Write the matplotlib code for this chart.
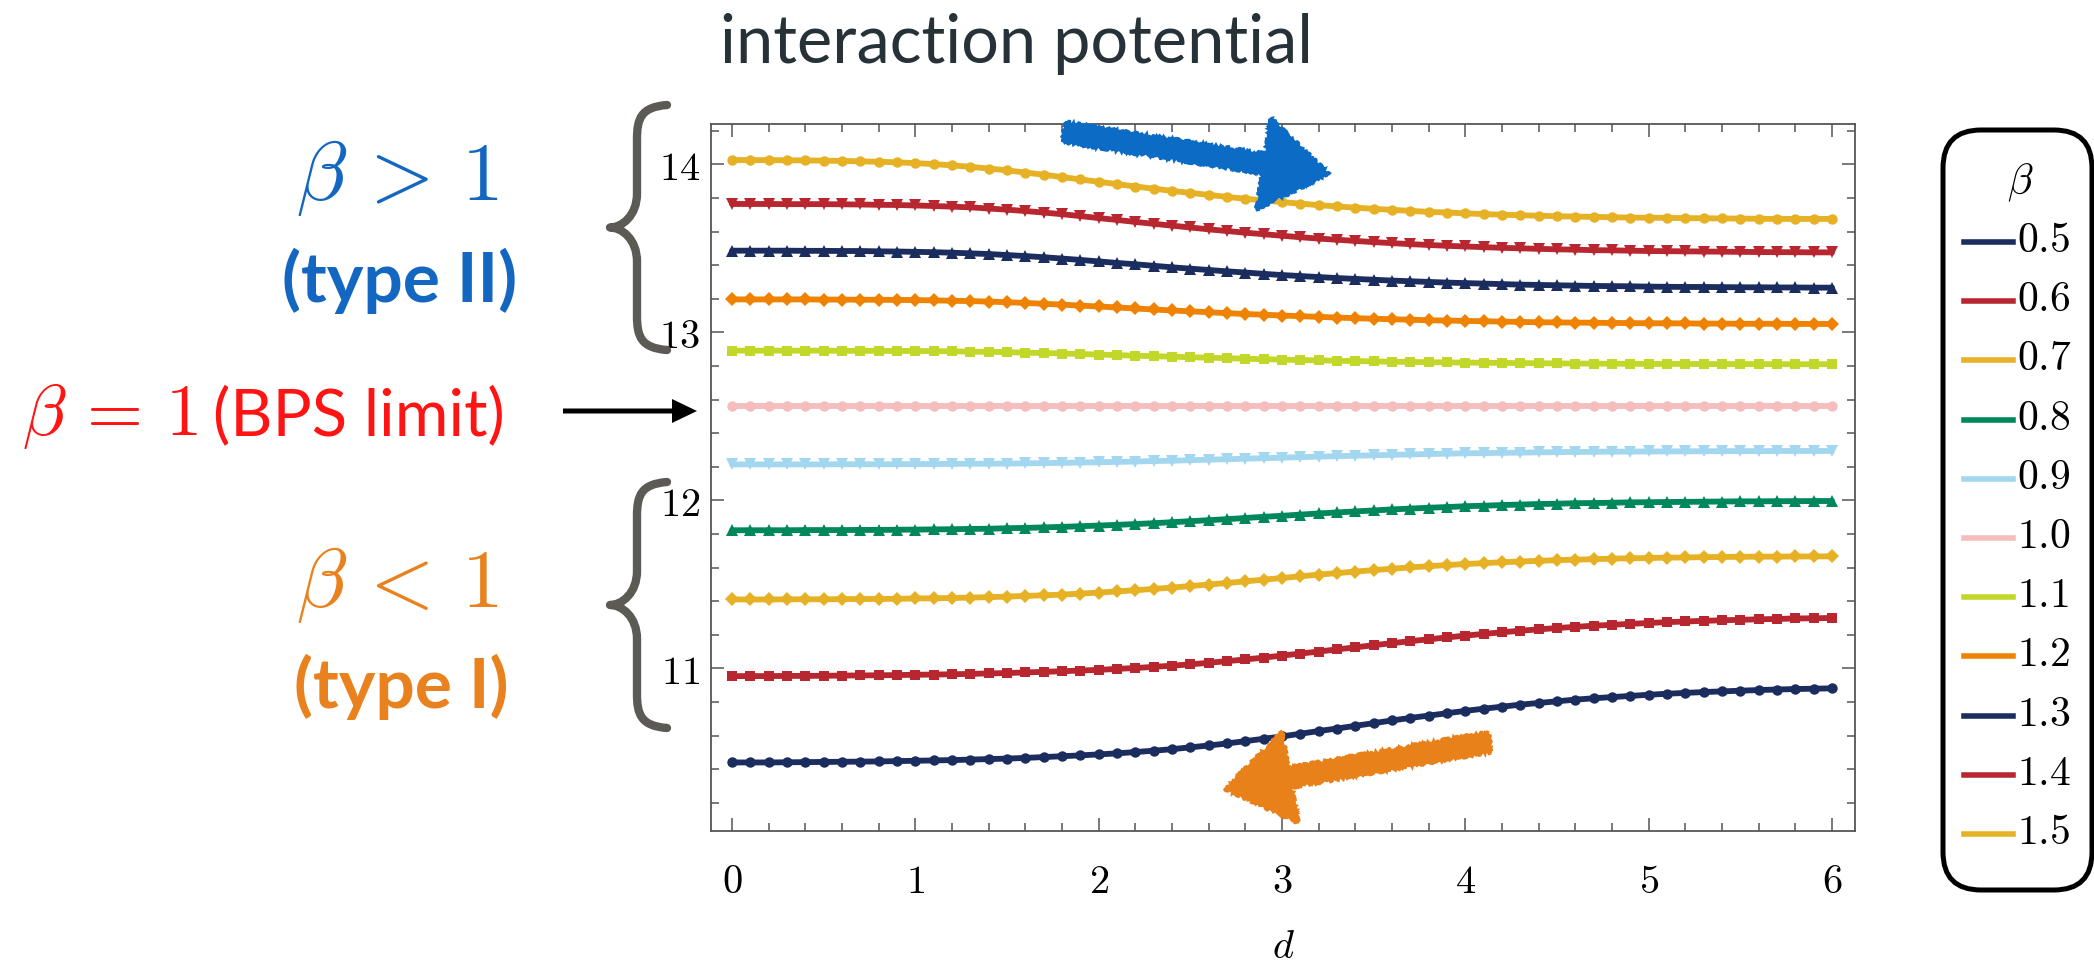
import matplotlib
matplotlib.use('Agg')
import matplotlib.pyplot as plt
from matplotlib.patches import FancyArrow, FancyBboxPatch, PathPatch
from matplotlib.path import Path
from matplotlib.lines import Line2D
from matplotlib.ticker import MultipleLocator, FuncFormatter

plt.rcParams['mathtext.fontset'] = 'cm'

# separation d (one point every 0.1)
d = [0.0, 0.1, 0.2, 0.3, 0.4, 0.5, 0.6, 0.7, 0.8, 0.9,
     1.0, 1.1, 1.2, 1.3, 1.4, 1.5, 1.6, 1.7, 1.8, 1.9,
     2.0, 2.1, 2.2, 2.3, 2.4, 2.5, 2.6, 2.7, 2.8, 2.9,
     3.0, 3.1, 3.2, 3.3, 3.4, 3.5, 3.6, 3.7, 3.8, 3.9,
     4.0, 4.1, 4.2, 4.3, 4.4, 4.5, 4.6, 4.7, 4.8, 4.9,
     5.0, 5.1, 5.2, 5.3, 5.4, 5.5, 5.6, 5.7, 5.8, 5.9,
     6.0]

# interaction potential for each beta
v05 = [10.440, 10.440, 10.440, 10.441, 10.442, 10.443, 10.444, 10.445, 10.446, 10.448,
       10.450, 10.452, 10.454, 10.457, 10.460, 10.463, 10.467, 10.472, 10.477, 10.482,
       10.488, 10.494, 10.502, 10.510, 10.519, 10.530, 10.541, 10.553, 10.567, 10.581,
       10.595, 10.611, 10.627, 10.642, 10.658, 10.674, 10.690, 10.705, 10.719, 10.733,
       10.747, 10.760, 10.772, 10.784, 10.794, 10.804, 10.814, 10.822, 10.829, 10.836,
       10.843, 10.849, 10.854, 10.859, 10.863, 10.867, 10.871, 10.874, 10.877, 10.879,
       10.881]
v06 = [10.954, 10.954, 10.954, 10.955, 10.955, 10.956, 10.957, 10.958, 10.959, 10.960,
       10.962, 10.963, 10.965, 10.967, 10.970, 10.972, 10.976, 10.979, 10.983, 10.987,
       10.991, 10.997, 11.002, 11.009, 11.016, 11.024, 11.033, 11.043, 11.053, 11.064,
       11.076, 11.088, 11.100, 11.113, 11.125, 11.138, 11.150, 11.162, 11.173, 11.184,
       11.195, 11.205, 11.215, 11.224, 11.232, 11.240, 11.247, 11.254, 11.259, 11.265,
       11.270, 11.275, 11.279, 11.283, 11.286, 11.289, 11.292, 11.294, 11.297, 11.298,
       11.300]
v07 = [11.410, 11.410, 11.410, 11.411, 11.411, 11.411, 11.412, 11.413, 11.413, 11.414,
       11.416, 11.417, 11.419, 11.421, 11.424, 11.427, 11.431, 11.435, 11.439, 11.445,
       11.451, 11.458, 11.465, 11.473, 11.481, 11.490, 11.499, 11.508, 11.518, 11.528,
       11.538, 11.548, 11.558, 11.567, 11.576, 11.585, 11.593, 11.601, 11.608, 11.615,
       11.621, 11.626, 11.632, 11.636, 11.640, 11.644, 11.647, 11.650, 11.653, 11.655,
       11.657, 11.659, 11.660, 11.662, 11.663, 11.664, 11.665, 11.665, 11.666, 11.666,
       11.667]
v08 = [11.822, 11.822, 11.822, 11.822, 11.823, 11.823, 11.823, 11.824, 11.824, 11.825,
       11.826, 11.827, 11.828, 11.830, 11.831, 11.834, 11.836, 11.839, 11.842, 11.846,
       11.850, 11.854, 11.859, 11.864, 11.870, 11.876, 11.882, 11.888, 11.895, 11.902,
       11.908, 11.915, 11.922, 11.928, 11.934, 11.940, 11.946, 11.951, 11.956, 11.960,
       11.965, 11.968, 11.972, 11.975, 11.978, 11.980, 11.983, 11.984, 11.986, 11.988,
       11.989, 11.990, 11.991, 11.992, 11.993, 11.994, 11.994, 11.995, 11.995, 11.996,
       11.996]
v09 = [12.214, 12.214, 12.214, 12.214, 12.214, 12.214, 12.215, 12.215, 12.215, 12.215,
       12.216, 12.216, 12.217, 12.218, 12.218, 12.219, 12.220, 12.222, 12.223, 12.225,
       12.227, 12.229, 12.231, 12.234, 12.236, 12.239, 12.242, 12.245, 12.248, 12.251,
       12.254, 12.257, 12.260, 12.263, 12.266, 12.268, 12.271, 12.273, 12.276, 12.278,
       12.280, 12.281, 12.283, 12.284, 12.286, 12.287, 12.288, 12.289, 12.290, 12.290,
       12.291, 12.291, 12.292, 12.292, 12.293, 12.293, 12.293, 12.294, 12.294, 12.294,
       12.294]
v10 = [12.560, 12.560, 12.560, 12.560, 12.560, 12.560, 12.560, 12.560, 12.560, 12.560,
       12.560, 12.560, 12.560, 12.560, 12.560, 12.560, 12.560, 12.560, 12.560, 12.560,
       12.560, 12.560, 12.560, 12.560, 12.560, 12.560, 12.560, 12.560, 12.560, 12.560,
       12.560, 12.560, 12.560, 12.560, 12.560, 12.560, 12.560, 12.560, 12.560, 12.560,
       12.560, 12.560, 12.560, 12.560, 12.560, 12.560, 12.560, 12.560, 12.560, 12.560,
       12.560, 12.560, 12.560, 12.560, 12.560, 12.560, 12.560, 12.560, 12.560, 12.560,
       12.560]
v11 = [12.891, 12.891, 12.891, 12.891, 12.891, 12.891, 12.890, 12.890, 12.890, 12.889,
       12.889, 12.888, 12.887, 12.885, 12.884, 12.882, 12.879, 12.877, 12.874, 12.871,
       12.868, 12.864, 12.861, 12.858, 12.855, 12.852, 12.849, 12.846, 12.843, 12.840,
       12.838, 12.835, 12.833, 12.831, 12.829, 12.827, 12.825, 12.824, 12.822, 12.821,
       12.820, 12.819, 12.818, 12.817, 12.816, 12.815, 12.814, 12.814, 12.813, 12.813,
       12.812, 12.812, 12.812, 12.811, 12.811, 12.811, 12.811, 12.810, 12.810, 12.810,
       12.810]
v12 = [13.196, 13.196, 13.196, 13.196, 13.196, 13.195, 13.195, 13.194, 13.194, 13.193,
       13.192, 13.190, 13.188, 13.186, 13.183, 13.179, 13.175, 13.170, 13.165, 13.159,
       13.154, 13.148, 13.142, 13.136, 13.130, 13.125, 13.120, 13.114, 13.109, 13.105,
       13.100, 13.096, 13.092, 13.088, 13.084, 13.081, 13.078, 13.075, 13.072, 13.070,
       13.068, 13.066, 13.064, 13.062, 13.060, 13.059, 13.058, 13.057, 13.056, 13.055,
       13.054, 13.054, 13.053, 13.052, 13.052, 13.051, 13.051, 13.051, 13.050, 13.050,
       13.050]
v13 = [13.486, 13.486, 13.486, 13.486, 13.485, 13.485, 13.484, 13.484, 13.482, 13.481,
       13.479, 13.477, 13.474, 13.470, 13.466, 13.460, 13.454, 13.447, 13.439, 13.431,
       13.422, 13.413, 13.405, 13.396, 13.387, 13.379, 13.371, 13.363, 13.356, 13.348,
       13.341, 13.335, 13.329, 13.323, 13.318, 13.313, 13.308, 13.304, 13.300, 13.296,
       13.293, 13.290, 13.287, 13.284, 13.282, 13.280, 13.278, 13.276, 13.275, 13.274,
       13.272, 13.271, 13.270, 13.270, 13.269, 13.268, 13.268, 13.267, 13.267, 13.266,
       13.266]
v14 = [13.764, 13.764, 13.764, 13.763, 13.763, 13.763, 13.762, 13.761, 13.759, 13.758,
       13.755, 13.752, 13.748, 13.744, 13.737, 13.730, 13.722, 13.713, 13.703, 13.692,
       13.680, 13.669, 13.657, 13.646, 13.635, 13.624, 13.613, 13.603, 13.593, 13.584,
       13.575, 13.566, 13.558, 13.551, 13.544, 13.537, 13.531, 13.525, 13.520, 13.515,
       13.511, 13.507, 13.503, 13.500, 13.497, 13.494, 13.492, 13.489, 13.488, 13.486,
       13.484, 13.483, 13.482, 13.481, 13.480, 13.479, 13.478, 13.477, 13.477, 13.476,
       13.476]
v15 = [14.026, 14.025, 14.025, 14.024, 14.023, 14.022, 14.020, 14.018, 14.015, 14.012,
       14.007, 14.001, 13.994, 13.985, 13.975, 13.964, 13.951, 13.938, 13.924, 13.910,
       13.896, 13.882, 13.868, 13.855, 13.842, 13.830, 13.818, 13.806, 13.795, 13.785,
       13.775, 13.766, 13.757, 13.749, 13.742, 13.735, 13.729, 13.723, 13.717, 13.713,
       13.708, 13.704, 13.700, 13.697, 13.694, 13.691, 13.689, 13.687, 13.685, 13.683,
       13.682, 13.681, 13.680, 13.679, 13.678, 13.677, 13.676, 13.675, 13.675, 13.675,
       13.675]

beta_labels = ['0.5', '0.6', '0.7', '0.8', '0.9', '1.0', '1.1', '1.2', '1.3', '1.4', '1.5']
series = [v05, v06, v07, v08, v09, v10, v11, v12, v13, v14, v15]

colors = ['#1b2d5e', '#b8272f', '#e6b124', '#00875b', '#a3d7ef', '#f5bdbd',
          '#c3d72b', '#ef8200', '#1b2d5e', '#b8272f', '#e6b124']
markers = ['o', 's', 'D', '^', 'v', 'o', 's', 'D', '^', 'v', 'o']
msizes = {'o': 7.5, 's': 7.5, 'D': 7, '^': 8.5, 'v': 8.5}

BLUE = '#1367c1'
ORANGE = '#e9821e'
RED = '#ff1414'
GREY = '#5b5a54'

W, H = 2094, 967
fig = plt.figure(figsize=(W / 100, H / 100), dpi=100)
inch = fig.dpi_scale_trans


def fx(x):
    return x / W


def fy(y):
    return 1 - y / H


def pin(x, y):
    # image pixel (y down) -> inches from bottom left
    return (x / 100, (H - y) / 100)


ax = fig.add_axes([711 / W, 1 - 831 / H, (1855 - 711) / W, (831 - 124) / H])
for vals, c, m in zip(series, colors, markers):
    ax.plot(d, vals, color=c, lw=4.2, marker=m, ms=msizes[m], mew=0,
            solid_capstyle='round', solid_joinstyle='round')

ax.set_xlim(-0.115, 6.125)
ax.set_ylim(10.032, 14.24)
ax.xaxis.set_major_locator(MultipleLocator(1))
ax.xaxis.set_minor_locator(MultipleLocator(0.2))
ax.yaxis.set_major_locator(MultipleLocator(1))
ax.yaxis.set_minor_locator(MultipleLocator(0.2))
fmt = FuncFormatter(lambda v, p: f'${v:.0f}$')
ax.xaxis.set_major_formatter(fmt)
ax.yaxis.set_major_formatter(fmt)
ax.tick_params(which='both', direction='in', top=True, right=True,
               color='#555555', width=1.1, labelsize=29)
ax.tick_params(which='major', length=9.5)
ax.tick_params(which='minor', length=5.5)
ax.tick_params(axis='x', pad=22)
ax.tick_params(axis='y', pad=8)
for s in ax.spines.values():
    s.set_color('#555555')
    s.set_linewidth(1.3)
ax.set_xlabel('$d$', fontsize=29)
ax.xaxis.set_label_coords(0.5, -0.136)

# title
fig.text(fx(720), fy(63), 'interaction potential', fontsize=48, family='Lato',
         color='#263238', ha='left', va='baseline')

# left-hand annotations
fig.text(fx(397), fy(200), r'$\beta\,>\,1$', fontsize=60, color=BLUE, ha='center', va='baseline')
fig.text(fx(400), fy(302), '(type II)', fontsize=50, family='Lato', weight='bold',
         color=BLUE, ha='center', va='baseline')
fig.text(fx(22), fy(435), r'$\beta\,=\,1$', fontsize=52, color=RED, ha='left', va='baseline')
fig.text(fx(213), fy(435), '(BPS limit)', fontsize=47, family='Lato', color=RED,
         ha='left', va='baseline')
fig.text(fx(397), fy(607), r'$\beta\,<\,1$', fontsize=60, color=ORANGE, ha='center', va='baseline')
fig.text(fx(401), fy(708), '(type I)', fontsize=50, family='Lato', weight='bold',
         color=ORANGE, ha='center', va='baseline')


def brace(x_end, x_stem, x_tip, y_top, y_bot, r=34):
    ym = (y_top + y_bot) / 2
    pts = [(x_end, y_top),
           (x_stem + 4, y_top + 2), (x_stem, y_top + r * 0.4), (x_stem, y_top + r),
           (x_stem, ym - r),
           (x_stem, ym - r * 0.35), (x_tip + 12, ym), (x_tip, ym),
           (x_tip + 12, ym), (x_stem, ym + r * 0.35), (x_stem, ym + r),
           (x_stem, y_bot - r),
           (x_stem, y_bot - r * 0.4), (x_stem + 4, y_bot - 2), (x_end, y_bot)]
    codes = [Path.MOVETO, Path.CURVE4, Path.CURVE4, Path.CURVE4, Path.LINETO,
             Path.CURVE4, Path.CURVE4, Path.CURVE4, Path.CURVE4, Path.CURVE4, Path.CURVE4,
             Path.LINETO, Path.CURVE4, Path.CURVE4, Path.CURVE4]
    path = Path([pin(x, y) for x, y in pts], codes)
    fig.add_artist(PathPatch(path, transform=inch, fc='none', ec=GREY, lw=6,
                             capstyle='round', joinstyle='round'))


brace(667, 637, 610, 105, 350)
brace(667, 637, 610, 482, 728)

# arrows
tx, ty = pin(563, 411)
hx, hy = pin(697, 411)
fig.add_artist(FancyArrow(tx, ty, hx - tx, hy - ty, width=0.05, head_width=0.24,
                          head_length=0.25, length_includes_head=True,
                          transform=inch, color='black', lw=0))

for (x0, y0), (x1, y1), col in [((1064, 132), (1329, 174), '#0b6bc5'),
                                ((1490, 742), (1225, 789), '#e8811a')]:
    tx, ty = pin(x0, y0)
    hx, hy = pin(x1, y1)
    arr = FancyArrow(tx, ty, hx - tx, hy - ty, width=0.2, head_width=0.92,
                     head_length=0.66, length_includes_head=True,
                     transform=inch, fc=col, ec=col, lw=2, zorder=5)
    arr.set_sketch_params(scale=1.5, length=5, randomness=10)
    fig.add_artist(arr)

# legend box
bx0, by0 = pin(1943, 890)
fig.add_artist(FancyBboxPatch((bx0, by0), 1.49, 7.60,
                              boxstyle='round,pad=0,rounding_size=0.38',
                              transform=inch, fc='white', ec='black', lw=3.6))
fig.text(fx(2020), fy(183), r'$\beta$', fontsize=30, ha='center', va='center')
for i, (lab, c) in enumerate(zip(beta_labels, colors)):
    y = 242 + 59.2 * i
    lx0, ly = pin(1964, y)
    lx1, _ = pin(2013, y)
    fig.add_artist(Line2D([lx0, lx1], [ly, ly], transform=inch, color=c, lw=4))
    fig.text(fx(2017), fy(y - 2), f'${lab}$', fontsize=30, ha='left', va='center')

fig.savefig('out.png', dpi=100)
